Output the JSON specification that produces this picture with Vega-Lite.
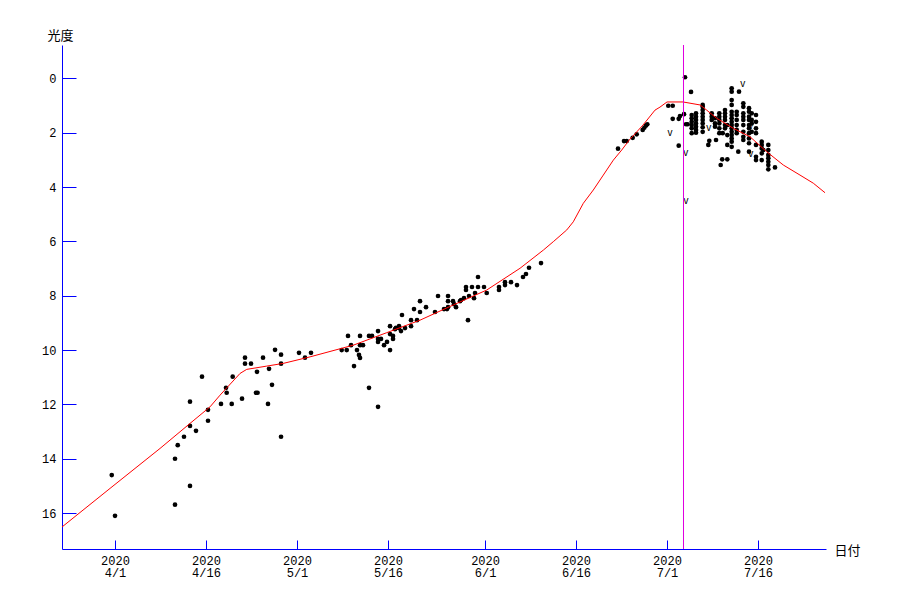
{
  "$schema": "https://vega.github.io/schema/vega-lite/v6.json",
  "width": 764,
  "height": 504,
  "autosize": {"type": "none"},
  "padding": {"left": 62, "top": 45, "right": 74, "bottom": 51},
  "background": "white",
  "config": {
    "view": {"stroke": null},
    "axis": {
      "grid": false,
      "domainColor": "#0000ff",
      "domainWidth": 1,
      "tickColor": "#0000ff",
      "tickWidth": 1,
      "labelColor": "#000000",
      "labelFont": "Liberation Sans Narrow, Liberation Mono",
      "labelFontSize": 12,
      "titleFont": "Noto Sans CJK JP",
      "titleFontSize": 13,
      "titleFontWeight": "normal",
      "titleColor": "#000000",
      "labelOverlap": false,
      "labelFlush": false
    }
  },
  "datasets": {
    "curve": [
      {"day": -8.74, "mag": 16.51}, {"day": -0.82, "mag": 15.09}, {"day": 7.42, "mag": 13.62},
      {"day": 12.36, "mag": 12.70}, {"day": 15.66, "mag": 12.09}, {"day": 17.31, "mag": 11.66},
      {"day": 20.61, "mag": 10.86}, {"day": 21.71, "mag": 10.71}, {"day": 25.01, "mag": 10.59},
      {"day": 27.75, "mag": 10.49}, {"day": 32.15, "mag": 10.25}, {"day": 39.28, "mag": 9.82},
      {"day": 44.79, "mag": 9.36}, {"day": 50.28, "mag": 8.90}, {"day": 55.77, "mag": 8.34},
      {"day": 61.28, "mag": 7.79}, {"day": 66.77, "mag": 6.99}, {"day": 70.62, "mag": 6.32},
      {"day": 72.26, "mag": 6.01}, {"day": 74.47, "mag": 5.58}, {"day": 75.55, "mag": 5.28},
      {"day": 77.20, "mag": 4.60}, {"day": 78.85, "mag": 4.11}, {"day": 80.50, "mag": 3.56},
      {"day": 82.15, "mag": 3.01}, {"day": 83.53, "mag": 2.64}, {"day": 84.78, "mag": 2.27},
      {"day": 87.04, "mag": 1.72}, {"day": 89.02, "mag": 1.17}, {"day": 89.84, "mag": 1.06},
      {"day": 91.0, "mag": 0.87}, {"day": 93.64, "mag": 0.87}, {"day": 96.44, "mag": 0.98},
      {"day": 97.54, "mag": 1.17}, {"day": 99.19, "mag": 1.47}, {"day": 101.93, "mag": 1.84},
      {"day": 104.68, "mag": 2.15}, {"day": 107.43, "mag": 2.70}, {"day": 110.17, "mag": 3.19},
      {"day": 112.92, "mag": 3.56}, {"day": 115.12, "mag": 3.86}, {"day": 117.05, "mag": 4.21}
    ],
    "obs": [
      {"day": -0.54, "mag": 14.60}, {"day": 0, "mag": 16.10}, {"day": 9.89, "mag": 14.00},
      {"day": 9.89, "mag": 15.69}, {"day": 10.34, "mag": 13.50}, {"day": 11.37, "mag": 13.19},
      {"day": 12.36, "mag": 11.90}, {"day": 12.36, "mag": 12.79}, {"day": 12.36, "mag": 15.00},
      {"day": 13.35, "mag": 12.97}, {"day": 14.34, "mag": 10.98}, {"day": 15.33, "mag": 12.20},
      {"day": 15.33, "mag": 12.60}, {"day": 17.47, "mag": 11.98}, {"day": 18.30, "mag": 11.39},
      {"day": 18.41, "mag": 11.57}, {"day": 19.24, "mag": 11.98}, {"day": 19.40, "mag": 10.98},
      {"day": 20.94, "mag": 11.79}, {"day": 21.43, "mag": 10.28}, {"day": 21.43, "mag": 10.50},
      {"day": 22.42, "mag": 10.50}, {"day": 23.41, "mag": 10.80}, {"day": 23.24, "mag": 11.57},
      {"day": 23.5, "mag": 11.57}, {"day": 24.40, "mag": 10.28}, {"day": 25.22, "mag": 11.98},
      {"day": 25.39, "mag": 10.69}, {"day": 25.88, "mag": 11.28}, {"day": 26.38, "mag": 9.99},
      {"day": 27.37, "mag": 10.17}, {"day": 27.37, "mag": 10.50}, {"day": 27.37, "mag": 13.19},
      {"day": 30.33, "mag": 10.10}, {"day": 31.32, "mag": 10.28}, {"day": 32.31, "mag": 10.10},
      {"day": 37.37, "mag": 10.0}, {"day": 38.20, "mag": 10.0}, {"day": 38.41, "mag": 9.48},
      {"day": 38.91, "mag": 9.82}, {"day": 39.40, "mag": 10.59}, {"day": 39.89, "mag": 10.0},
      {"day": 40.22, "mag": 10.18}, {"day": 40.39, "mag": 10.29}, {"day": 40.39, "mag": 9.48},
      {"day": 40.39, "mag": 9.82}, {"day": 40.88, "mag": 9.82}, {"day": 41.87, "mag": 11.39},
      {"day": 41.87, "mag": 9.48}, {"day": 42.37, "mag": 9.48}, {"day": 43.36, "mag": 9.30},
      {"day": 43.36, "mag": 9.59}, {"day": 43.36, "mag": 9.70}, {"day": 43.36, "mag": 12.09},
      {"day": 43.85, "mag": 9.59}, {"day": 44.35, "mag": 9.82}, {"day": 44.84, "mag": 9.70},
      {"day": 45.34, "mag": 9.12}, {"day": 45.34, "mag": 9.41}, {"day": 45.34, "mag": 10.0},
      {"day": 45.83, "mag": 9.48}, {"day": 45.83, "mag": 9.59}, {"day": 46.16, "mag": 9.23},
      {"day": 46.32, "mag": 9.18}, {"day": 46.82, "mag": 9.12}, {"day": 46.82, "mag": 9.19},
      {"day": 47.15, "mag": 9.30}, {"day": 47.31, "mag": 8.71}, {"day": 47.81, "mag": 9.19},
      {"day": 48.80, "mag": 8.90}, {"day": 48.80, "mag": 9.12}, {"day": 49.29, "mag": 8.49},
      {"day": 49.79, "mag": 8.90}, {"day": 50.28, "mag": 8.20}, {"day": 50.28, "mag": 8.60},
      {"day": 51.27, "mag": 8.42}, {"day": 52.75, "mag": 8.60}, {"day": 53.25, "mag": 8.01},
      {"day": 54.24, "mag": 8.49}, {"day": 54.73, "mag": 8.49}, {"day": 54.90, "mag": 8.01},
      {"day": 54.90, "mag": 8.20}, {"day": 54.90, "mag": 8.42}, {"day": 55.72, "mag": 8.20},
      {"day": 55.89, "mag": 8.31}, {"day": 56.22, "mag": 8.42}, {"day": 56.87, "mag": 8.20},
      {"day": 57.04, "mag": 8.16}, {"day": 57.53, "mag": 8.09}, {"day": 57.86, "mag": 7.68},
      {"day": 57.86, "mag": 7.79}, {"day": 58.19, "mag": 8.90}, {"day": 58.36, "mag": 8.01},
      {"day": 58.85, "mag": 7.68}, {"day": 59.18, "mag": 8.09}, {"day": 59.35, "mag": 7.90},
      {"day": 59.84, "mag": 7.31}, {"day": 59.84, "mag": 7.68}, {"day": 60.83, "mag": 7.68},
      {"day": 61.28, "mag": 7.90}, {"day": 63.30, "mag": 7.68}, {"day": 63.30, "mag": 7.79},
      {"day": 64.29, "mag": 7.50}, {"day": 64.29, "mag": 7.61}, {"day": 65.28, "mag": 7.50},
      {"day": 66.27, "mag": 7.61}, {"day": 67.26, "mag": 7.31}, {"day": 67.75, "mag": 7.20},
      {"day": 68.25, "mag": 6.97}, {"day": 70.23, "mag": 6.80},
      {"day": 82.92, "mag": 2.59}, {"day": 83.91, "mag": 2.31}, {"day": 84.36, "mag": 2.31},
      {"day": 85.34, "mag": 2.19}, {"day": 86.0, "mag": 2.06}, {"day": 86.99, "mag": 1.90},
      {"day": 87.26, "mag": 1.82}, {"day": 87.54, "mag": 1.74}, {"day": 87.75, "mag": 1.69},
      {"day": 91.21, "mag": 1.01}, {"day": 91.94, "mag": 1.01}, {"day": 91.94, "mag": 1.49},
      {"day": 92.93, "mag": 1.49}, {"day": 93.14, "mag": 1.39}, {"day": 93.8, "mag": 1.32},
      {"day": 92.93, "mag": 2.48}, {"day": 93.97, "mag": -0.04}, {"day": 94.13, "mag": 1.69},
      {"day": 94.4, "mag": 1.69}, {"day": 94.96, "mag": 0.50},
      {"day": 95.07, "mag": 1.35}, {"day": 95.07, "mag": 1.47}, {"day": 95.07, "mag": 1.60},
      {"day": 95.07, "mag": 1.72}, {"day": 95.07, "mag": 1.84}, {"day": 95.07, "mag": 2.02},
      {"day": 95.78, "mag": 1.29}, {"day": 95.78, "mag": 1.41}, {"day": 95.78, "mag": 1.53},
      {"day": 95.78, "mag": 1.66}, {"day": 95.78, "mag": 1.78}, {"day": 95.78, "mag": 1.90},
      {"day": 95.78, "mag": 2.00},
      {"day": 96.88, "mag": 0.98}, {"day": 96.88, "mag": 1.05}, {"day": 96.88, "mag": 1.17},
      {"day": 96.88, "mag": 1.29}, {"day": 96.88, "mag": 1.41}, {"day": 96.88, "mag": 1.53},
      {"day": 96.88, "mag": 1.66}, {"day": 96.88, "mag": 1.80}, {"day": 96.88, "mag": 1.97},
      {"day": 97.81, "mag": 2.45}, {"day": 97.97, "mag": 2.30},
      {"day": 98.37, "mag": 1.29}, {"day": 98.37, "mag": 1.41}, {"day": 98.37, "mag": 1.53},
      {"day": 98.91, "mag": 1.47}, {"day": 98.91, "mag": 1.66}, {"day": 98.91, "mag": 1.78},
      {"day": 99.08, "mag": 2.27},
      {"day": 99.62, "mag": 1.29}, {"day": 99.62, "mag": 1.41}, {"day": 99.62, "mag": 1.53},
      {"day": 99.62, "mag": 1.66}, {"day": 99.62, "mag": 1.84}, {"day": 99.62, "mag": 2.02},
      {"day": 100.18, "mag": 2.02}, {"day": 100.1, "mag": 2.98}, {"day": 99.85, "mag": 3.19},
      {"day": 100.56, "mag": 1.17}, {"day": 100.56, "mag": 1.29}, {"day": 100.56, "mag": 1.41},
      {"day": 100.56, "mag": 1.53}, {"day": 100.56, "mag": 1.72}, {"day": 100.56, "mag": 1.84},
      {"day": 100.94, "mag": 1.72}, {"day": 100.94, "mag": 2.09}, {"day": 100.94, "mag": 2.45},
      {"day": 100.94, "mag": 2.98},
      {"day": 101.66, "mag": 0.37}, {"day": 101.66, "mag": 0.49}, {"day": 101.66, "mag": 0.80},
      {"day": 101.66, "mag": 0.98}, {"day": 101.66, "mag": 1.23}, {"day": 101.66, "mag": 1.35},
      {"day": 101.66, "mag": 1.47}, {"day": 101.66, "mag": 1.60}, {"day": 101.66, "mag": 1.72},
      {"day": 101.66, "mag": 1.84}, {"day": 101.66, "mag": 1.97}, {"day": 101.66, "mag": 2.09},
      {"day": 101.66, "mag": 2.21}, {"day": 101.66, "mag": 2.33}, {"day": 101.66, "mag": 2.52},
      {"day": 102.87, "mag": 0.49},
      {"day": 102.49, "mag": 1.23}, {"day": 102.49, "mag": 1.35}, {"day": 102.49, "mag": 1.53},
      {"day": 102.49, "mag": 1.72}, {"day": 102.49, "mag": 1.90}, {"day": 102.49, "mag": 2.02},
      {"day": 102.75, "mag": 2.70},
      {"day": 103.58, "mag": 0.92}, {"day": 103.58, "mag": 1.05}, {"day": 103.58, "mag": 1.29},
      {"day": 103.58, "mag": 1.41}, {"day": 103.58, "mag": 1.53}, {"day": 103.58, "mag": 1.72},
      {"day": 103.58, "mag": 1.97}, {"day": 103.58, "mag": 2.15}, {"day": 103.58, "mag": 2.27},
      {"day": 104.52, "mag": 1.10}, {"day": 104.52, "mag": 1.23}, {"day": 104.52, "mag": 1.41},
      {"day": 104.52, "mag": 1.53}, {"day": 104.52, "mag": 1.72}, {"day": 104.52, "mag": 1.84},
      {"day": 104.52, "mag": 2.02}, {"day": 104.52, "mag": 2.21}, {"day": 104.52, "mag": 2.39},
      {"day": 104.52, "mag": 2.70},
      {"day": 104.96, "mag": 1.29}, {"day": 104.96, "mag": 1.53}, {"day": 104.96, "mag": 1.66},
      {"day": 104.96, "mag": 1.97},
      {"day": 105.67, "mag": 1.35}, {"day": 105.67, "mag": 1.60}, {"day": 105.67, "mag": 1.84},
      {"day": 105.67, "mag": 2.02}, {"day": 105.67, "mag": 2.45}, {"day": 105.67, "mag": 2.89},
      {"day": 105.67, "mag": 3.01},
      {"day": 106.61, "mag": 2.33}, {"day": 106.61, "mag": 2.45}, {"day": 106.61, "mag": 2.58},
      {"day": 106.61, "mag": 2.76}, {"day": 106.61, "mag": 3.01}, {"day": 106.87, "mag": 2.64},
      {"day": 107.70, "mag": 2.45}, {"day": 107.70, "mag": 2.64}, {"day": 107.70, "mag": 2.82},
      {"day": 107.70, "mag": 2.94}, {"day": 107.70, "mag": 3.07}, {"day": 107.70, "mag": 3.19},
      {"day": 107.70, "mag": 3.35}, {"day": 108.80, "mag": 3.28}
    ],
    "limits": [
      {"day": 91.49, "mag": 2.01}, {"day": 94.07, "mag": 2.75}, {"day": 94.13, "mag": 4.52},
      {"day": 103.5, "mag": 0.21}, {"day": 97.9, "mag": 1.83}, {"day": 104.8, "mag": 1.76},
      {"day": 104.8, "mag": 2.79}
    ],
    "marker": [{"day": 93.72}]
  },
  "encoding": {
    "x": {
      "field": "day",
      "type": "quantitative",
      "scale": {"domain": [-8.74, 117.21], "nice": false, "zero": false},
      "axis": {
        "values": [0, 15, 30, 45, 61, 76, 91, 106],
        "labelExpr": "['2020', datum.value == 0 ? '4/1' : datum.value == 15 ? '4/16' : datum.value == 30 ? '5/1' : datum.value == 45 ? '5/16' : datum.value == 61 ? '6/1' : datum.value == 76 ? '6/16' : datum.value == 91 ? '7/1' : '7/16']",
        "labelLineHeight": 12,
        "labelColor": "#000000",
        "tickSize": -9,
        "labelPadding": 15,
        "title": "日付",
        "titleX": 772,
        "titleY": 1,
        "titleAlign": "left",
        "titleBaseline": "middle",
        "titleAngle": 0
      }
    },
    "y": {
      "field": "mag",
      "type": "quantitative",
      "scale": {"domain": [-1.226, 17.32], "nice": false, "zero": false, "reverse": true},
      "axis": {
        "values": [0, 2, 4, 6, 8, 10, 12, 14, 16],
        "labelColor": "#000000",
        "tickSize": -14,
        "labelPadding": 20,
        "title": "光度",
        "titleAngle": 0,
        "titleX": -2,
        "titleY": -10,
        "titleAlign": "center",
        "titleBaseline": "middle"
      }
    }
  },
  "layer": [
    {
      "data": {"name": "obs"},
      "mark": {"type": "point", "shape": "circle", "filled": true, "size": 22, "color": "#000000", "opacity": 1}
    },
    {
      "data": {"name": "limits"},
      "mark": {"type": "text", "text": "v", "font": "Liberation Sans", "fontSize": 10, "color": "#000000", "align": "center", "baseline": "middle"}
    },
    {
      "data": {"name": "curve"},
      "mark": {"type": "line", "color": "#ff0000", "strokeWidth": 1, "clip": true}
    },
    {
      "data": {"name": "marker"},
      "mark": {"type": "rule", "color": "#e000e0", "strokeWidth": 1},
      "encoding": {"y": {"value": 0}, "y2": {"value": 504}}
    }
  ]
}
